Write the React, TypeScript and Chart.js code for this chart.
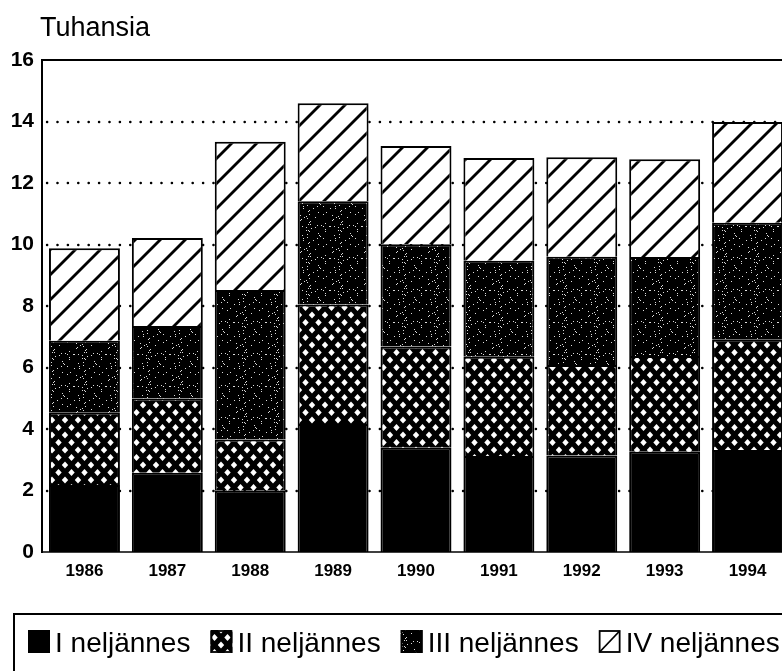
import React, { useEffect, useRef } from "react";
import { Chart, registerables } from "chart.js";

Chart.register(...registerables);

const years = ["1986", "1987", "1988", "1989", "1990", "1991", "1992", "1993", "1994"];
const q1 = [2.18, 2.58, 1.99, 4.16, 3.39, 3.12, 3.14, 3.26, 3.32];
const q2 = [2.35, 2.41, 1.67, 3.89, 3.29, 3.23, 2.94, 3.11, 3.6];
const q3 = [2.34, 2.36, 4.86, 3.36, 3.33, 3.12, 3.52, 3.22, 3.79];
const q4 = [3.01, 2.86, 4.82, 3.18, 3.19, 3.34, 3.24, 3.18, 3.27];
const seriesLabels = ["I neljännes", "II neljännes", "III neljännes", "IV neljännes"];
const yTitle = "Tuhansia";
const gridValues = [2, 4, 6, 8, 10, 12, 14];

const FONT = "'Liberation Sans', Arial, Helvetica, sans-serif";

function makeTile(w: number, h: number) {
  const c = document.createElement("canvas");
  c.width = w;
  c.height = h;
  return c;
}

function crossTile() {
  const c = makeTile(13, 15);
  const g = c.getContext("2d")!;
  g.fillStyle = "#000";
  g.fillRect(0, 0, 13, 15);
  g.fillStyle = "#fff";
  const dia = (cx: number, cy: number) => {
    g.beginPath();
    g.moveTo(cx, cy - 3.4);
    g.lineTo(cx + 3.2, cy);
    g.lineTo(cx, cy + 3.4);
    g.lineTo(cx - 3.2, cy);
    g.closePath();
    g.fill();
  };
  [[0, 0], [13, 0], [0, 15], [13, 15], [6.5, 7.5]].forEach(([x, y]) => dia(x, y));
  return c;
}

function dotsTile() {
  const size = 32;
  const c = makeTile(size, size);
  const g = c.getContext("2d")!;
  const img = g.createImageData(size, size);
  for (let i = 0; i < size * size; i++) {
    let h = (i + 17) * 2654435761;
    h = (h ^ (h >>> 13)) >>> 0;
    h = Math.imul(h, 1274126177) >>> 0;
    const white = h % 100 < 7;
    const v = white ? 220 : 0;
    img.data[i * 4] = v;
    img.data[i * 4 + 1] = v;
    img.data[i * 4 + 2] = v;
    img.data[i * 4 + 3] = 255;
  }
  g.putImageData(img, 0, 0);
  return c;
}

function hatchTile() {
  const s = 25;
  const c = makeTile(s, s);
  const g = c.getContext("2d")!;
  g.fillStyle = "#fff";
  g.fillRect(0, 0, s, s);
  g.strokeStyle = "#000";
  g.lineWidth = 2.8;
  for (const k of [-s, 0, s]) {
    g.beginPath();
    g.moveTo(k - 2, s + 2);
    g.lineTo(k + s + 2, -2);
    g.stroke();
  }
  return c;
}

export default function App() {
  const ref = useRef<HTMLCanvasElement | null>(null);

  useEffect(() => {
    const canvas = ref.current;
    if (!canvas) return;
    const ctx = canvas.getContext("2d")!;
    const pCross = ctx.createPattern(crossTile(), "repeat")!;
    const pDots = ctx.createPattern(dotsTile(), "repeat")!;
    const pHatch = ctx.createPattern(hatchTile(), "repeat")!;
    const fills: (string | CanvasPattern)[] = ["#000", pCross, pDots, pHatch];

    const gridPlugin = {
      id: "refGrid",
      beforeDatasetsDraw(chart: any) {
        const c = chart.ctx as CanvasRenderingContext2D;
        const { left, right } = chart.chartArea;
        const y = chart.scales.y;
        c.save();
        c.strokeStyle = "#000";
        c.lineWidth = 2.4;
        c.lineCap = "round";
        c.setLineDash([0.2, 10.2]);
        for (const v of gridValues) {
          const py = Math.round(y.getPixelForValue(v));
          c.beginPath();
          c.moveTo(left + 4, py);
          c.lineTo(right + 20, py);
          c.stroke();
        }
        c.restore();
      },
      afterDatasetsDraw(chart: any) {
        const c = chart.ctx as CanvasRenderingContext2D;
        const { left, right, top, bottom } = chart.chartArea;
        const y = chart.scales.y;
        c.save();
        c.strokeStyle = "#000";
        c.setLineDash([]);
        c.lineWidth = 2;
        const ty = y.getPixelForValue(16);
        c.beginPath();
        c.moveTo(left - 2, ty);
        c.lineTo(right + 20, ty);
        c.stroke();
        c.beginPath();
        c.moveTo(left - 1, top - 1);
        c.lineTo(left - 1, bottom + 1);
        c.stroke();
        c.lineWidth = 1.6;
        const by = y.getPixelForValue(0);
        c.beginPath();
        c.moveTo(left - 2, by);
        c.lineTo(right + 20, by);
        c.stroke();
        c.restore();
      },
      afterDraw(chart: any) {
        const c = chart.ctx as CanvasRenderingContext2D;
        c.save();
        c.fillStyle = "#000";
        c.font = `27px ${FONT}`;
        c.textBaseline = "alphabetic";
        c.textAlign = "left";
        c.fillText(yTitle, 40, 36);

        c.strokeStyle = "#000";
        c.lineWidth = 2;
        c.strokeRect(14, 614, 900, 200);

        c.font = `28px ${FONT}`;
        let x = 28;
        const iy = 630;
        const iw = 22;
        const ih = 23;
        chart.data.datasets.forEach((ds: any, i: number) => {
          if (i === 3) {
            c.fillStyle = "#fff";
            c.fillRect(x, iy, iw, ih);
            c.lineWidth = 1.8;
            c.strokeRect(x + 1, iy + 1, iw - 2, ih - 2);
            c.beginPath();
            c.moveTo(x + 1, iy + ih - 1);
            c.lineTo(x + iw - 1, iy + 1);
            c.stroke();
          } else {
            c.fillStyle = fills[i] as any;
            c.fillRect(x, iy, iw, ih);
            c.lineWidth = 1.8;
            c.strokeRect(x + 1, iy + 1, iw - 2, ih - 2);
          }
          c.fillStyle = "#000";
          const tx = x + iw + 5;
          c.fillText(ds.label, tx, 652);
          x = tx + c.measureText(ds.label).width + 20;
        });
        c.restore();
      },
    };

    const series = [q1, q2, q3, q4];
    const chart = new Chart(canvas, {
      type: "bar",
      data: {
        labels: years,
        datasets: series.map((d, i) => ({
          label: seriesLabels[i],
          data: d,
          backgroundColor: fills[i] as any,
          borderColor: "#000",
          borderWidth: 2,
          borderSkipped: "start" as const,
          categoryPercentage: 1,
          barPercentage: 0.856,
        })),
      },
      options: {
        animation: false,
        responsive: false,
        events: [],
        layout: { padding: { top: 60, right: 11, left: 0, bottom: 0 } },
        plugins: { legend: { display: false }, tooltip: { enabled: false } },
        scales: {
          x: {
            stacked: true,
            grid: { display: false, drawTicks: false },
            border: { display: false },
            ticks: { font: { family: FONT, size: 17, weight: "bold" }, color: "#000", padding: 9, maxRotation: 0 },
            afterFit: (s: any) => {
              s.height = 119;
            },
          },
          y: {
            stacked: true,
            min: 0,
            max: 16,
            grid: { display: false, drawTicks: false },
            border: { display: false },
            ticks: { stepSize: 2, font: { family: FONT, size: 21, weight: "bold" }, color: "#000", padding: 9 },
            afterFit: (s: any) => {
              s.width = 43;
            },
          },
        },
      },
      plugins: [gridPlugin],
    });
    return () => chart.destroy();
  }, []);

  return (
    <div
      style={{
        position: "absolute",
        left: 0,
        top: 0,
        width: 782,
        height: 671,
        overflow: "hidden",
        background: "#fff",
      }}
    >
      <canvas ref={ref} width={800} height={671} style={{ display: "block" }} />
    </div>
  );
}
